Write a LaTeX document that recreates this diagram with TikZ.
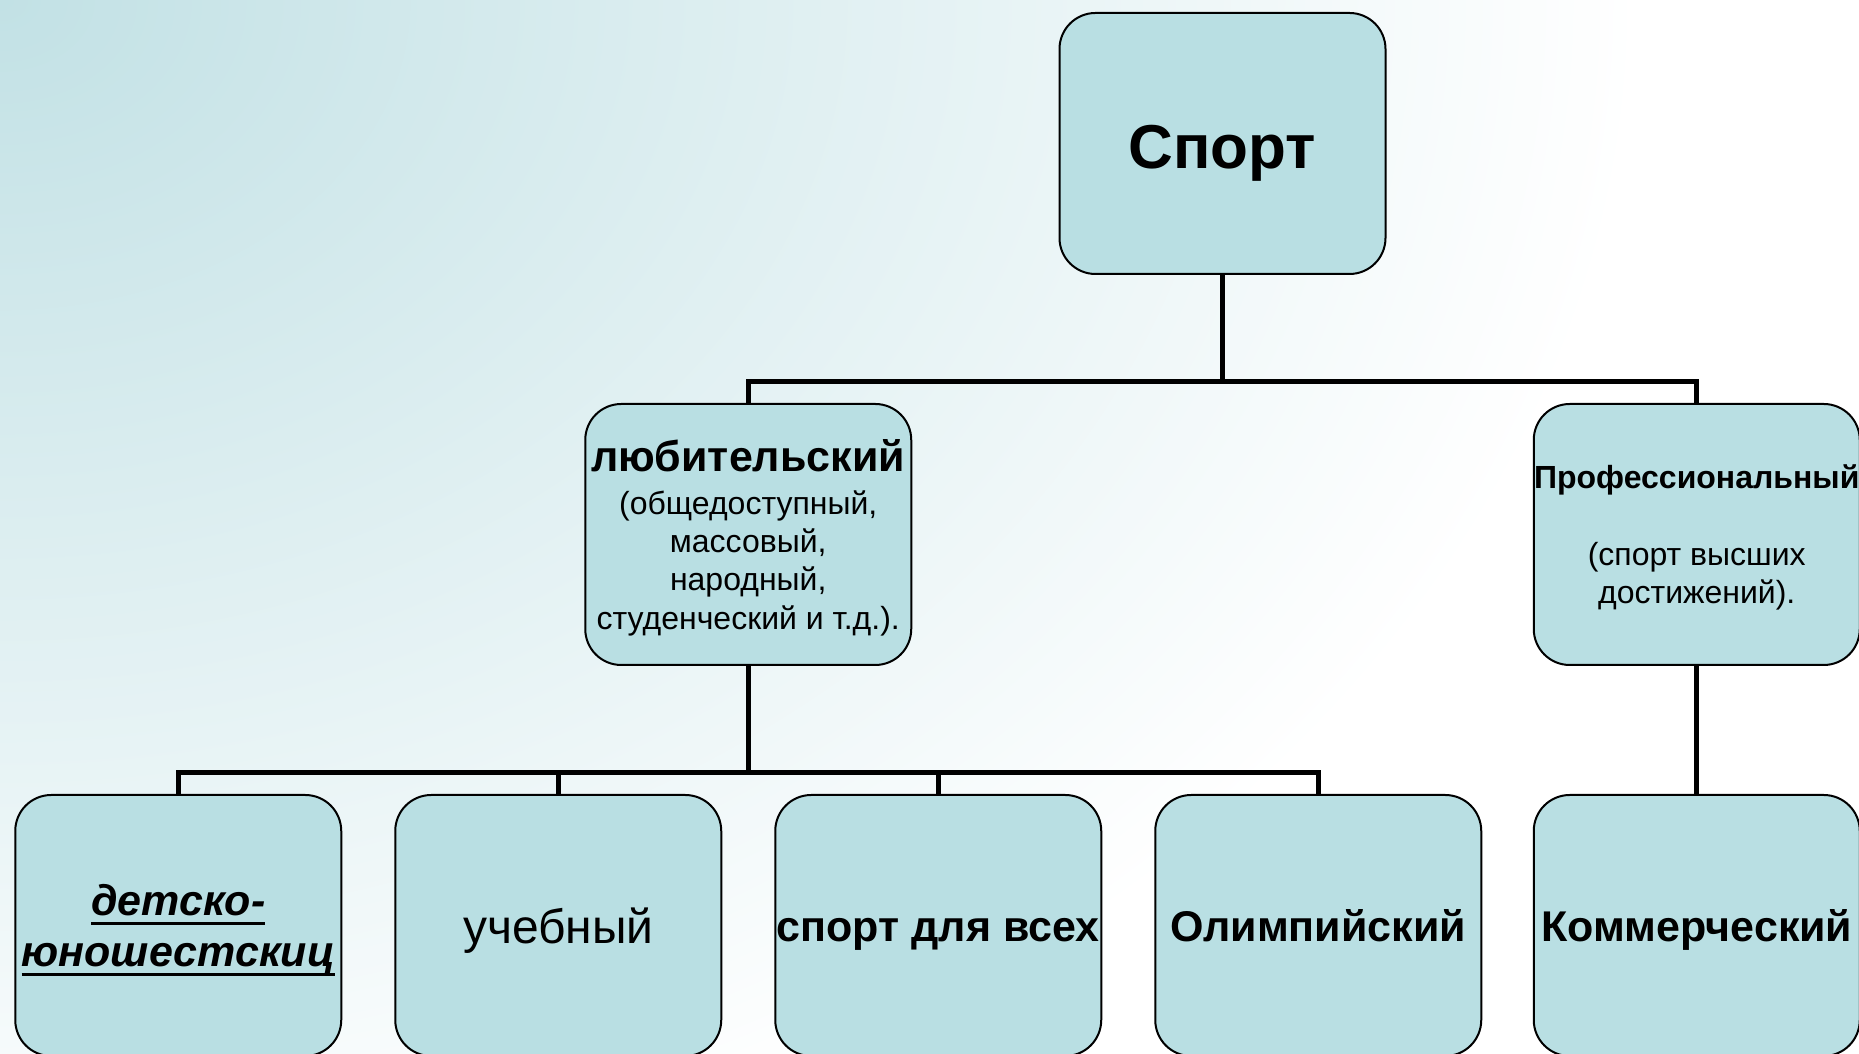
\documentclass[tikz,border=0pt]{standalone}
\usepackage{fontspec}
\setmainfont{Liberation Sans}
\usetikzlibrary{trees}

\definecolor{boxfill}{HTML}{B9DFE3}
\definecolor{bgteal}{HTML}{C2E1E5}

% thick underline as in the slide
\newcommand{\thickul}[1]{\setbox0\hbox{#1}\rlap{\rule[-4.5pt]{\wd0}{1.5pt}}\box0}

\tikzset{
  box/.style={draw=black, line width=1pt, fill=boxfill, rounded corners=18pt,
    minimum width=163pt, minimum height=130.5pt, align=center, inner sep=0pt},
  bigtext/.style={font=\fontsize{21.5}{25.5}\selectfont\bfseries, text height=19pt, text depth=3pt},
  smalltext/.style={font=\fontsize{16}{19.2}\selectfont, text depth=0pt}
}

\begin{document}
\begin{tikzpicture}[x=0.5pt,y=0.5pt,level distance=195.5pt,
    edge from parent/.style={draw,line width=2.3pt},
    edge from parent path={(\tikzparentnode.south) -- ++(0,-53.25pt) -| (\tikzchildnode.north)}]
  \tikzstyle{level 1}=[sibling distance=474.25pt]
  \tikzstyle{level 2}=[sibling distance=190pt]
  \useasboundingbox (0,0) rectangle (1859,1054);
  % background
  \begin{scope}
    \clip (0,0) rectangle (1859,1054);
    \shade[inner color=bgteal, outer color=white] (0,1054) ellipse [x radius=820pt, y radius=620pt];
  \end{scope}
  \node[box, font=\fontsize{31}{37}\selectfont\bfseries, text height=28pt, text depth=3.2pt] (sport) at (1222.5,910.5) {Спорт}
    child {node[box, smalltext] (amateur)
      {{\fontsize{21.5}{25.5}\selectfont\bfseries любительский}\\[2pt]
       (общедоступный,\\ массовый,\\ народный,\\ студенческий и т.д.).}
      child {node[box, font=\fontsize{21.5}{25.5}\selectfont\bfseries\itshape, text depth=0pt] (youth)
        {\thickul{детско-}\\ \thickul{юношестскиц}}}
      child {node[box, font=\fontsize{24}{29}\selectfont, text height=21.5pt, text depth=3.7pt] (study) {учебный}}
      child {node[box, bigtext] (forall) {спорт для всех}}
      child {node[box, bigtext] (olymp) {Олимпийский}}
    }
    child {node[box, smalltext] (pro)
      {\textbf{Профессиональный}\\[19.2pt] (спорт высших\\ достижений).}
      child {node[box, bigtext] (commerce) {Коммерческий}}
    };
\end{tikzpicture}
\end{document}
